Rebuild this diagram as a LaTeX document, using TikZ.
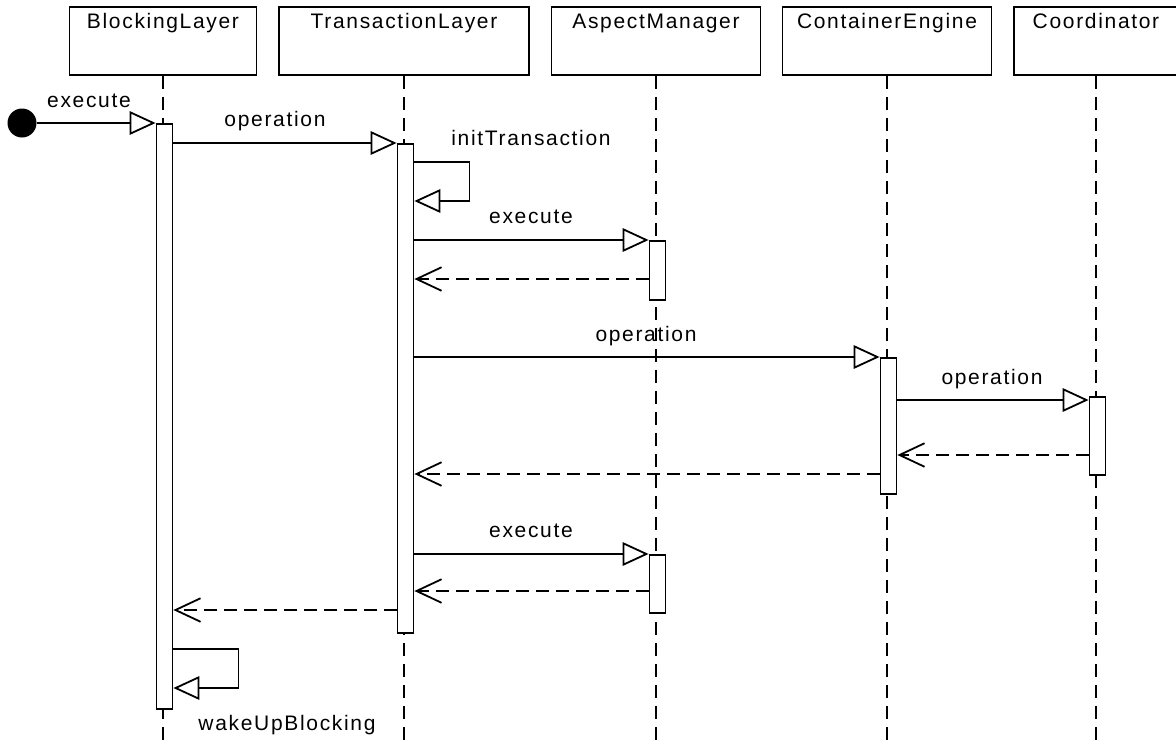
\documentclass[tikz,border=0pt]{standalone}
\usepackage{fontspec}
\setmainfont{Liberation Sans}[LetterSpace=8]
\usetikzlibrary{arrows.meta}

\tikzset{
  hdr/.style={draw, line width=1.8pt, rectangle, anchor=north, inner xsep=0pt,
    inner ysep=0pt, text height=22pt, text depth=46pt},
  lifeline/.style={line width=1.8pt, dash pattern=on 13pt off 8pt},
  bar/.style={draw, fill=white, line width=1.8pt, rectangle, minimum width=16pt,
    inner sep=0pt, anchor=north},
  call/.style={line width=1.8pt, -{Triangle[open, length=26pt, width=23.5pt]}},
  reply/.style={line width=1.8pt, dash pattern=on 13pt off 7pt,
    -{Straight Barb[length=25pt, width=23.5pt]}},
  msg/.style={anchor=base, inner sep=0pt},
}

\begin{document}
\begin{tikzpicture}[x=1pt, y=-1pt, font=\fontsize{21}{25}\selectfont]
\useasboundingbox (0,0) rectangle (1176,747);

% participants
\node[hdr, minimum width=187pt] (bl) at (163,6) {BlockingLayer};
\node[hdr, minimum width=250pt] (tl) at (404,6) {TransactionLayer};
\node[hdr, minimum width=209pt] (am) at (656,6) {AspectManager};
\node[hdr, minimum width=209pt] (ce) at (887,6) {ContainerEngine};
\node[hdr, minimum width=164pt] (co) at (1096,6) {Coordinator};

% lifelines
\foreach \p in {bl,tl,am,ce,co}
  \draw[lifeline] (\p.south) -- (\p.south |- 0,747);

% activations
\node[bar, minimum height=585pt] (bl1) at (164.5,123) {};
\node[bar, minimum height=489pt] (tl1) at (405.5,143) {};
\node[bar, minimum height=59pt]  (am1) at (657.5,240) {};
\node[bar, minimum height=136pt] (ce1) at (888.5,357) {};
\node[bar, minimum height=78pt]  (co1) at (1097.5,396) {};
\node[bar, minimum height=58pt]  (am2) at (657.5,554) {};

% found message
\node[circle, fill=black, minimum size=29pt, inner sep=0pt] (init) at (22,123) {};
\draw[call] (init) -- (bl1.north west);
\node[msg] at (89,107) {execute};

% BlockingLayer -> TransactionLayer
\draw[call] (bl1.east |- tl1.north) -- (tl1.north west);
\node[msg] at (275,126) {operation};

% self call on TransactionLayer
\draw[call] (tl1.east |- 0,162) -- ++(55pt,0) |- (tl1.east |- 0,201);
\node[msg] at (531,145) {initTransaction};

% TransactionLayer -> AspectManager
\draw[call] (tl1.east |- am1.north) -- (am1.north west);
\node[msg] at (531,223) {execute};
\draw[reply] (am1.west |- 0,279) -- (tl1.east |- 0,279);

% TransactionLayer -> ContainerEngine
\draw[call] (tl1.east |- ce1.north) -- (ce1.north west);
\node[msg] at (646,341) {operation};

% ContainerEngine -> Coordinator
\draw[call] (ce1.east |- 0,400) -- (co1.west |- 0,400);
\node[msg] at (992,384) {operation};
\draw[reply] (co1.west |- 0,455) -- (ce1.east |- 0,455);
\draw[reply] (ce1.west |- 0,474) -- (tl1.east |- 0,474);

% second TransactionLayer -> AspectManager
\draw[call] (tl1.east |- am2.north) -- (am2.north west);
\node[msg] at (531,537) {execute};
\draw[reply] (am2.west |- 0,591) -- (tl1.east |- 0,591);

% TransactionLayer returns to BlockingLayer
\draw[reply] (tl1.west |- 0,610) -- (bl1.east |- 0,610);

% self call on BlockingLayer
\draw[call] (bl1.east |- 0,649) -- ++(65pt,0) |- (bl1.east |- 0,688);
\node[msg] at (287,730) {wakeUpBlocking};
\end{tikzpicture}
\end{document}
